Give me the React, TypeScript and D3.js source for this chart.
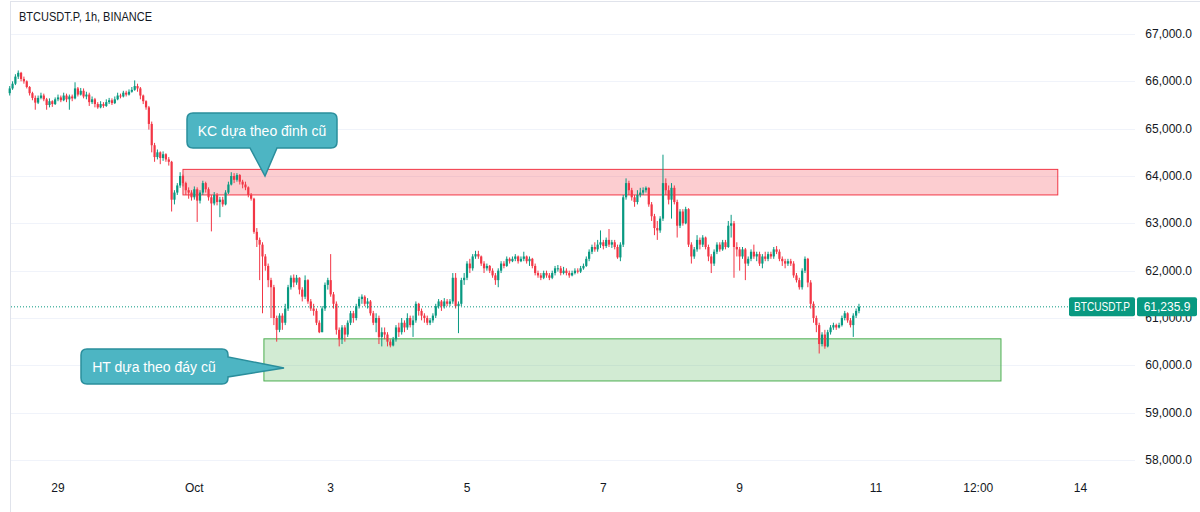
import React from "react";
import * as d3 from "d3";

// ---- data ----
const firstOpen = 65750;
const startTime = Date.UTC(2024, 8, 28, 7); // first 1h candle
const closes = [
  65850, 65950, 66100, 66180, 66050, 66000, 65880, 65750, 65650, 65550,
  65650, 65700, 65620, 65500, 65580, 65520, 65620, 65660, 65600, 65700,
  65620, 65680, 65640, 65850, 65720, 65800, 65680, 65720, 65560, 65620,
  65520, 65450, 65520, 65480, 65560, 65600, 65540, 65620, 65700, 65680,
  65760, 65720, 65780, 65820, 65900, 65850, 65700, 65580, 65450, 65100,
  64650, 64400, 64500, 64380, 64460, 64350, 64300, 63500, 63650, 63800,
  64000, 63850, 63700, 63650, 63550, 63720, 63480, 63650, 63850, 63720,
  63550, 63420, 63600, 63450, 63500, 63400, 63650, 63820, 64000, 63920,
  64020, 63880, 63820, 63760, 63600, 63520, 62820, 62650, 62550, 62300,
  62100, 61800, 61650, 61000, 60750, 61050, 60900, 61200, 61650, 61850,
  61750, 61850, 61600, 61450, 61800, 61350, 61200, 61150, 60900, 60700,
  61200, 61700, 61800, 61500, 61300, 60750, 60550, 60800, 60650, 60900,
  61100, 61000, 61250, 61400, 61450, 61300, 61350, 61100, 60900, 61000,
  60600, 60700, 60650, 60500, 60420, 60550, 60800, 60700, 60900, 60800,
  61000, 60850, 60950, 61300, 61150, 61050, 61000, 60900, 60950, 61050,
  61250, 61350, 61250, 61350, 61300, 61350, 61850, 61250, 61300, 61800,
  61850, 62150, 62050, 62300, 62350, 62300, 62150, 62050, 62100, 62000,
  61900, 61800, 62000, 62150, 62100, 62250, 62200, 62250, 62300, 62200,
  62250, 62300, 62200, 62250, 62100, 61950, 61900, 61850, 61950, 61900,
  61850, 61950, 62050, 62050, 61950, 62000, 61950, 61900, 61950, 62000,
  61980, 62050, 62100, 62250, 62400, 62500, 62450, 62550, 62600, 62520,
  62650, 62550, 62600, 62500, 62280, 62550, 63550, 63850, 63700, 63550,
  63450, 63600, 63650, 63700, 63750, 63400, 63150, 62900, 62850, 63100,
  63850, 63700, 63500, 63750, 63450, 62950, 63250, 63000, 63300, 62550,
  62300, 62450, 62650, 62550, 62700, 62500, 62300, 62150, 62400, 62550,
  62450, 62600, 62500, 62950, 63000, 62500, 62450, 62300, 62450, 62150,
  62250, 62400, 62300, 62350, 62150, 62300, 62250, 62350, 62300, 62450,
  62400, 62250, 62200, 62150, 62200, 62150, 61900, 61800, 61650, 62000,
  62250, 61750, 61300, 61000, 60850, 60450, 60650, 60400, 60700, 60800,
  60850, 60800, 60850, 61000, 61100, 60950, 60850, 61050, 61150, 61235.9,
];
const highs = [
  65900, 66000, 66150, 66230, 66200, 66100, 66020, 65900, 65780, 65700,
  65700, 65760, 65740, 65650, 65640, 65600, 65660, 65720, 65700, 65760,
  65740, 65720, 65720, 65980, 65880, 65860, 65850, 65780, 65760, 65680,
  65650, 65560, 65580, 65560, 65620, 65650, 65640, 65680, 65760, 65740,
  65800, 65800, 65830, 65880, 66020, 65950, 65880, 65720, 65600, 65480,
  65150, 64700, 64560, 64520, 64520, 64480, 64400, 64320, 63700, 63850,
  64080, 64030, 63880, 63760, 63700, 63780, 63760, 63700, 63900, 63880,
  63760, 63600, 63660, 63640, 63560, 63560, 63700, 63880, 64080, 64060,
  64060, 64040, 63920, 63880, 63780, 63640, 63540, 62900, 62700, 62600,
  62350, 62150, 61850, 61700, 61050, 61100, 61100, 61300, 61700, 61900,
  61920, 61910, 61860, 61650, 61900, 61820, 61400, 61300, 61200, 60950,
  61250, 61750, 61850, 62350, 61550, 61350, 60800, 60850, 60850, 60950,
  61150, 61150, 61300, 61450, 61500, 61480, 61420, 61380, 61150, 61100,
  61050, 60800, 60800, 60700, 60550, 60600, 60850, 60900, 61000, 60950,
  61100, 61050, 61050, 61350, 61320, 61200, 61100, 61050, 61000, 61100,
  61300, 61400, 61380, 61420, 61400, 61400, 61950, 61950, 61350, 61850,
  61950, 62200, 62250, 62350, 62420, 62420, 62320, 62200, 62150, 62120,
  62050, 61950, 62050, 62200, 62200, 62300, 62280, 62300, 62350, 62320,
  62300, 62400, 62320, 62300, 62270, 62150, 62000, 61950, 62000, 62000,
  61950, 62000, 62100, 62120, 62100, 62080, 62050, 62000, 62000, 62050,
  62050, 62100, 62150, 62300, 62450, 62550, 62600, 62650, 62850, 62650,
  62700, 62880, 62650, 62650, 62550, 62600, 63600, 63950, 63900, 63750,
  63600, 63700, 63750, 63760, 63780, 63760, 63450, 63200, 63050, 63150,
  64450, 63950, 63800, 63850, 63800, 63500, 63300, 63300, 63350, 63320,
  62600, 62500, 62750, 62700, 62750, 62720, 62550, 62350, 62450, 62600,
  62600, 62650, 62650, 63050, 63180, 63050, 62600, 62500, 62500, 62480,
  62300, 62450, 62550, 62400, 62400, 62350, 62400, 62400, 62400, 62500,
  62520, 62450, 62300, 62250, 62250, 62250, 62200, 61950, 61850, 62050,
  62300, 62270, 61800, 61350, 61050, 60900, 60700, 60750, 60750, 60850,
  60900, 60880, 60900, 61050, 61150, 61120, 61000, 61100, 61200, 61300,
];
const lows = [
  65700, 65820, 65920, 66050, 66000, 65950, 65850, 65700, 65600, 65400,
  65520, 65620, 65580, 65400, 65450, 65460, 65500, 65580, 65560, 65580,
  65560, 65400, 65580, 65620, 65680, 65700, 65640, 65620, 65480, 65520,
  65450, 65420, 65430, 65440, 65460, 65520, 65500, 65520, 65600, 65640,
  65660, 65680, 65700, 65760, 65800, 65780, 65620, 65520, 65400, 64980,
  64500, 64300, 64350, 64250, 64320, 64300, 64220, 63250, 63400, 63600,
  63750, 63780, 63600, 63520, 63480, 63500, 63030, 63420, 63600, 63650,
  63480, 62830, 63380, 63380, 63130, 63350, 63380, 63620, 63800, 63850,
  63880, 63820, 63740, 63700, 63550, 63480, 62780, 62500, 61800, 61100,
  62000, 61650, 61000, 60850, 60500, 60700, 60750, 60850, 61150, 61600,
  61650, 61700, 61500, 61350, 61400, 61300, 61150, 61050, 60850, 60680,
  60700, 61150, 61600, 61450, 61200, 60650, 60400, 60450, 60500, 60600,
  60850, 60900, 60950, 61200, 61300, 61250, 61200, 61050, 60850, 60700,
  60450, 60400, 60550, 60400, 60380, 60400, 60500, 60600, 60650, 60700,
  60750, 60800, 60600, 60900, 61050, 60950, 60900, 60850, 60850, 60900,
  61000, 61200, 61150, 61200, 61250, 61250, 61300, 61200, 60680, 61250,
  61700, 61800, 61950, 62000, 62250, 62250, 62100, 61950, 62000, 61950,
  61850, 61700, 61650, 61950, 62050, 62080, 62150, 62180, 62200, 62150,
  62180, 62200, 62150, 62100, 62050, 61900, 61850, 61800, 61820, 61850,
  61800, 61820, 61900, 61980, 61900, 61920, 61900, 61850, 61880, 61920,
  61940, 61950, 62020, 62080, 62200, 62350, 62400, 62400, 62480, 62450,
  62480, 62500, 62480, 62450, 62250, 62200, 62500, 63500, 63600, 63480,
  63350, 63400, 63550, 63600, 63650, 63350, 63050, 62750, 62650, 62800,
  63050, 63600, 63400, 63100, 63400, 62700, 62900, 62950, 62980, 62500,
  62150, 62250, 62400, 62450, 62500, 62450, 62200, 61950, 62100, 62350,
  62400, 62420, 62450, 62480, 62700, 61850, 62300, 62000, 62250, 61800,
  62100, 62200, 62250, 62200, 62100, 62050, 62200, 62200, 62250, 62250,
  62350, 62200, 62100, 62050, 62100, 62100, 61850, 61750, 61600, 61600,
  61950, 61650, 61200, 60900, 60700, 60250, 60400, 60350, 60380, 60650,
  60750, 60750, 60780, 60820, 60950, 60900, 60800, 60600, 61000, 61100,
];

const priceTicks = [58000, 59000, 60000, 61000, 62000, 63000, 64000, 65000, 66000, 67000];
const timeTickLabels = ["29", "Oct", "3", "5", "7", "9", "11", "12:00", "14"];
const timeTickDates = [
  Date.UTC(2024, 8, 29), Date.UTC(2024, 9, 1), Date.UTC(2024, 9, 3), Date.UTC(2024, 9, 5),
  Date.UTC(2024, 9, 7), Date.UTC(2024, 9, 9), Date.UTC(2024, 9, 11), Date.UTC(2024, 9, 12, 12),
  Date.UTC(2024, 9, 14),
];
// zones: [startTime, endTime, topPrice, bottomPrice]
const resistanceZone = [Date.UTC(2024, 8, 30, 20), Date.UTC(2024, 9, 13, 16), 64140, 63600];
const supportZone = [Date.UTC(2024, 9, 2, 0, 30), Date.UTC(2024, 9, 12, 20), 60560, 59670];
const lastPrice = 61235.9;
const symbol = "BTCUSDT.P";
const title = "BTCUSDT.P, 1h, BINANCE";
const calloutTexts = ["KC dựa theo đỉnh cũ", "HT dựa theo đáy cũ"];

const GREEN = "#089981";
const RED = "#f23645";
const FONT = "'Liberation Sans', Arial, sans-serif";

export default function App() {
  const W = 1200, H = 512;
  const x = d3.scaleUtc().domain([Date.UTC(2024, 8, 29), Date.UTC(2024, 9, 14)]).range([58, 1080.5]);
  const y = d3.scaleLinear().domain([58000, 67000]).range([460, 34]);
  const fmt = d3.format(",.1f");

  const candles = closes.map((c, i) => {
    const o = i === 0 ? firstOpen : closes[i - 1];
    const t = startTime + i * 3600000;
    const h = Math.max(highs[i], o, c);
    const l = Math.min(lows[i], o, c);
    return { t, o, h, l, c };
  });

  const rz = resistanceZone, sz = supportZone;
  const ly = y(lastPrice);

  return (
    <svg width={W} height={H} style={{ position: "absolute", left: 0, top: 0, background: "#fff" }} fontFamily={FONT}>
      <rect x={0} y={0} width={W} height={H} fill="#fff" />
      {/* frame */}
      <line x1={10.5} x2={10.5} y1={1} y2={H} stroke="#e0e3eb" />
      <line x1={10} x2={W} y1={1.5} y2={1.5} stroke="#e0e3eb" />
      {/* grid */}
      {priceTicks.map((p) => (
        <line key={p} x1={11} x2={1135} y1={Math.round(y(p)) + 0.5} y2={Math.round(y(p)) + 0.5} stroke="#f0f3fa" />
      ))}
      {/* zones */}
      <rect x={x(rz[0])} y={y(rz[2])} width={x(rz[1]) - x(rz[0])} height={y(rz[3]) - y(rz[2])}
        fill="rgba(242,54,69,0.25)" stroke={RED} strokeWidth={1} />
      <rect x={x(sz[0])} y={y(sz[2])} width={x(sz[1]) - x(sz[0])} height={y(sz[3]) - y(sz[2])}
        fill="rgba(76,175,80,0.25)" stroke="#4caf50" strokeWidth={1} />
      {/* candles */}
      {candles.map((d, i) => {
        const cx = x(d.t);
        const col = d.c >= d.o ? GREEN : RED;
        const top = y(Math.max(d.o, d.c));
        const bot = y(Math.min(d.o, d.c));
        return (
          <g key={i}>
            <line x1={cx} x2={cx} y1={y(d.h)} y2={y(d.l)} stroke={col} strokeWidth={1} />
            <rect x={cx - 1.1} y={top} width={2.2} height={Math.max(1, bot - top)} fill={col} />
          </g>
        );
      })}
      {/* last price line */}
      <line x1={11} x2={1069} y1={ly} y2={ly} stroke={GREEN} strokeDasharray="1 2" />
      {/* callout 1 */}
      <path d="M193,113 H331 Q337,113 337,119 V142 Q337,148 331,148 H277 L265,176 L250,148 H193 Q187,148 187,142 V119 Q187,113 193,113 Z"
        fill="#4db5c3" stroke="#2a8e9c" strokeWidth={1.5} />
      <text x={262} y={131} textAnchor="middle" dominantBaseline="central" fill="#fff" fontSize={14}>{calloutTexts[0]}</text>
      {/* callout 2 */}
      <path d="M87,349 H222 Q228,349 228,355 V357 L284,368 L228,377 V378 Q228,384 222,384 H87 Q81,384 81,378 V355 Q81,349 87,349 Z"
        fill="#4db5c3" stroke="#2a8e9c" strokeWidth={1.5} />
      <text x={154} y={367} textAnchor="middle" dominantBaseline="central" fill="#fff" fontSize={14}>{calloutTexts[1]}</text>
      {/* title */}
      <text x={19} y={21} fontSize={12} fill="#131722" textLength={133} lengthAdjust="spacingAndGlyphs">{title}</text>
      {/* price axis */}
      {priceTicks.map((p) => (
        <text key={p} x={1192} y={y(p)} textAnchor="end" dominantBaseline="central" fontSize={12} fill="#131722">{fmt(p)}</text>
      ))}
      {/* last price labels */}
      <rect x={1069} y={ly - 9.5} width={66} height={19} rx={2} fill={GREEN} />
      <text x={1102} y={ly} textAnchor="middle" dominantBaseline="central" fontSize={12} fill="#fff"
        textLength={56} lengthAdjust="spacingAndGlyphs">{symbol}</text>
      <rect x={1137} y={ly - 9.5} width={60} height={19} rx={2} fill={GREEN} />
      <text x={1167} y={ly} textAnchor="middle" dominantBaseline="central" fontSize={12} fill="#fff">{fmt(lastPrice)}</text>
      {/* time axis */}
      {timeTickDates.map((t, i) => (
        <text key={i} x={x(t)} y={488} textAnchor="middle" dominantBaseline="central" fontSize={12} fill="#131722">{timeTickLabels[i]}</text>
      ))}
    </svg>
  );
}
